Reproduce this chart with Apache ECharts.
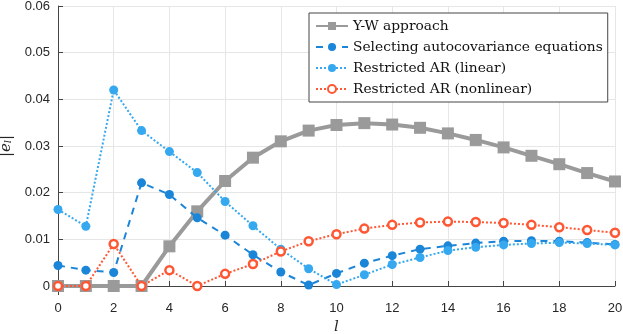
<!DOCTYPE html>
<html>
<head>
<meta charset="utf-8">
<script src="https://cdn.jsdelivr.net/npm/echarts@6/dist/echarts.min.js"></script>
<style>
  html, body { margin: 0; padding: 0; background: #fff; }
  #chart { width: 623px; height: 334px; }
</style>
</head>
<body>
<div id="chart"></div>
<script>
const lags = Array(21).fill(null).map((_, i) => i)

const ywApproach = [0, 0, 0, 0, 0.0085, 0.016, 0.0225, 0.0275, 0.031, 0.0333, 0.0345,
  0.0349, 0.0346, 0.0339, 0.0327, 0.0313, 0.0297, 0.0279, 0.0261, 0.0242, 0.0224]
const selectingAutocov = [0.0044, 0.0034, 0.0029, 0.0221, 0.0196, 0.0146, 0.0109, 0.0067, 0.003, 0.0002, 0.0027,
  0.0049, 0.0065, 0.0079, 0.0086, 0.0092, 0.0096, 0.0097, 0.0096, 0.0093, 0.0089]
const restrictedLinear = [0.0164, 0.0128, 0.042, 0.0333, 0.0288, 0.0243, 0.0181, 0.0129, 0.0079, 0.0037, 0.0003,
  0.0024, 0.0046, 0.0061, 0.0076, 0.0083, 0.0088, 0.0091, 0.0093, 0.0091, 0.0088]
const restrictedNonlinear = [0, 0, 0.009, 0, 0.0034, 0, 0.0026, 0.0047, 0.0074, 0.0096, 0.0111,
  0.0123, 0.0131, 0.0136, 0.0138, 0.0137, 0.0135, 0.0131, 0.0126, 0.012, 0.0114]

const seriesNames = [
  'Y-W approach',
  'Selecting autocovariance equations',
  'Restricted AR (linear)',
  'Restricted AR (nonlinear)'
]

const toPairs = (vals) => vals.map((v, i) => [lags[i], v])

const labelFont = { fontFamily: 'Liberation Sans', fontSize: 13, color: '#262626' }

const option = {
  animation: false,
  grid: { left: 58, right: 8, top: 6, bottom: 48, outerBoundsMode: 'none', containLabel: false },
  legend: {
    orient: 'vertical',
    left: 309,
    top: 13,
    padding: [6, 5, 6, 6],
    itemGap: 7,
    itemWidth: 32,
    itemHeight: 10,
    borderColor: '#444',
    borderWidth: 1,
    backgroundColor: '#fff',
    borderRadius: 0,
    textStyle: { fontFamily: 'DejaVu Serif', fontSize: 13.8, color: '#111' },
    data: seriesNames
  },
  xAxis: {
    type: 'value',
    min: 0,
    max: 20,
    interval: 2,
    offset: 9,
    name: 'l',
    nameLocation: 'middle',
    nameGap: 23,
    nameTextStyle: { fontFamily: 'DejaVu Serif', fontStyle: 'italic', fontSize: 15, color: '#262626' },
    axisLine: { lineStyle: { color: '#444', width: 1 } },
    axisTick: { inside: true, length: 5, lineStyle: { color: '#444' } },
    axisLabel: Object.assign({ margin: 7 }, labelFont),
    splitLine: { show: true, lineStyle: { color: '#e6e6e6' } }
  },
  yAxis: {
    type: 'value',
    min: 0,
    max: 0.06,
    interval: 0.01,
    name: '{n||e}{s|l}{n||}',
    nameLocation: 'middle',
    nameGap: 42,
    nameRotate: 90,
    nameTextStyle: {
      rich: {
        n: { fontFamily: 'DejaVu Serif', fontStyle: 'italic', fontSize: 15, color: '#262626' },
        s: { fontFamily: 'DejaVu Serif', fontStyle: 'italic', fontSize: 10, color: '#262626', verticalAlign: 'bottom', padding: [6, 0, 0, 0] }
      }
    },
    axisLine: { show: true, lineStyle: { color: '#444', width: 1 } },
    axisTick: { show: true, inside: true, length: 5, lineStyle: { color: '#444' } },
    axisLabel: Object.assign({
      margin: 8,
      formatter: (v) => v === 0 ? '0' : v.toFixed(2)
    }, labelFont),
    splitLine: { show: true, lineStyle: { color: '#e6e6e6' } }
  },
  graphic: [{
    type: 'line',
    shape: { x1: 58.5, y1: 286, x2: 58.5, y2: 295 },
    style: { stroke: '#444', lineWidth: 1 }
  }],
  series: [
    {
      name: seriesNames[0],
      type: 'line',
      data: toPairs(ywApproach),
      symbol: 'rect',
      symbolSize: 12,
      clip: false,
      z: 2,
      lineStyle: { color: '#9a9a9a', width: 4 },
      itemStyle: { color: '#9a9a9a' }
    },
    {
      name: seriesNames[1],
      type: 'line',
      data: toPairs(selectingAutocov),
      symbol: 'circle',
      symbolSize: 9,
      clip: false,
      z: 3,
      lineStyle: { color: '#1b85d8', width: 2, type: [7, 6] },
      itemStyle: { color: '#1b85d8' }
    },
    {
      name: seriesNames[2],
      type: 'line',
      data: toPairs(restrictedLinear),
      symbol: 'circle',
      symbolSize: 9,
      clip: false,
      z: 4,
      lineStyle: { color: '#36a8ef', width: 2, type: [2, 2] },
      itemStyle: { color: '#36a8ef' }
    },
    {
      name: seriesNames[3],
      type: 'line',
      data: toPairs(restrictedNonlinear),
      symbol: 'circle',
      symbolSize: 8,
      clip: false,
      z: 5,
      lineStyle: { color: '#ff5733', width: 2, type: [2, 2] },
      itemStyle: { color: '#fff', borderColor: '#ff5733', borderWidth: 2.5 }
    }
  ]
}

const chart = echarts.init(document.getElementById('chart'))
chart.setOption(option)
</script>
</body>
</html>
